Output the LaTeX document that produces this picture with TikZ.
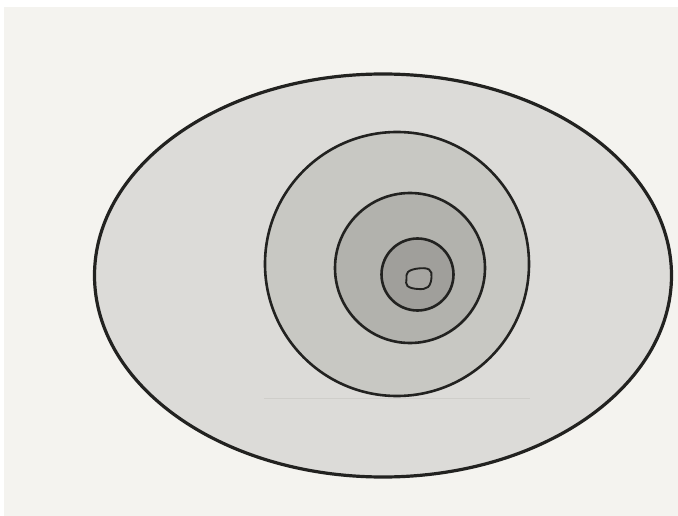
\documentclass[tikz,border=0pt]{standalone}
\definecolor{paper}{HTML}{F4F3EF}
\definecolor{lv1}{HTML}{DCDBD8}
\definecolor{lv2}{HTML}{C8C8C3}
\definecolor{lv3}{HTML}{B2B2AD}
\definecolor{lv4}{HTML}{A09F9B}
\definecolor{lv5}{HTML}{A7A6A2}
\definecolor{ink}{HTML}{222220}
\definecolor{faint}{HTML}{CFCECA}
\begin{document}
\begin{tikzpicture}[x=1pt,y=-1pt,
  contour/.style={draw=ink,line width=3.2pt},
  inner/.style={draw=ink,line width=2.6pt}]
\useasboundingbox (0,0) rectangle (678,516);
\fill[white] (0,0) rectangle (678,516);
\fill[paper] (4,7) rectangle (678,516);
\path[contour,fill=lv1] (383,275.5) ellipse [x radius=288.5,y radius=201.5];
\draw[faint,line width=0.8pt] (264,398) -- (530,398);
\path[inner,fill=lv2] (397,264) circle [radius=132];
\path[inner,fill=lv3] (410,268) circle [radius=75];
\path[inner,fill=lv4] (417.5,274.5) circle [radius=36];
\path[draw=ink,line width=1.9pt,fill=lv5] plot[smooth cycle,tension=0.7] coordinates
  {(408,272) (418,268.5) (429,269.5) (431.5,277) (428,287) (418,289) (407.5,286) (406.5,279)};
\end{tikzpicture}
\end{document}
